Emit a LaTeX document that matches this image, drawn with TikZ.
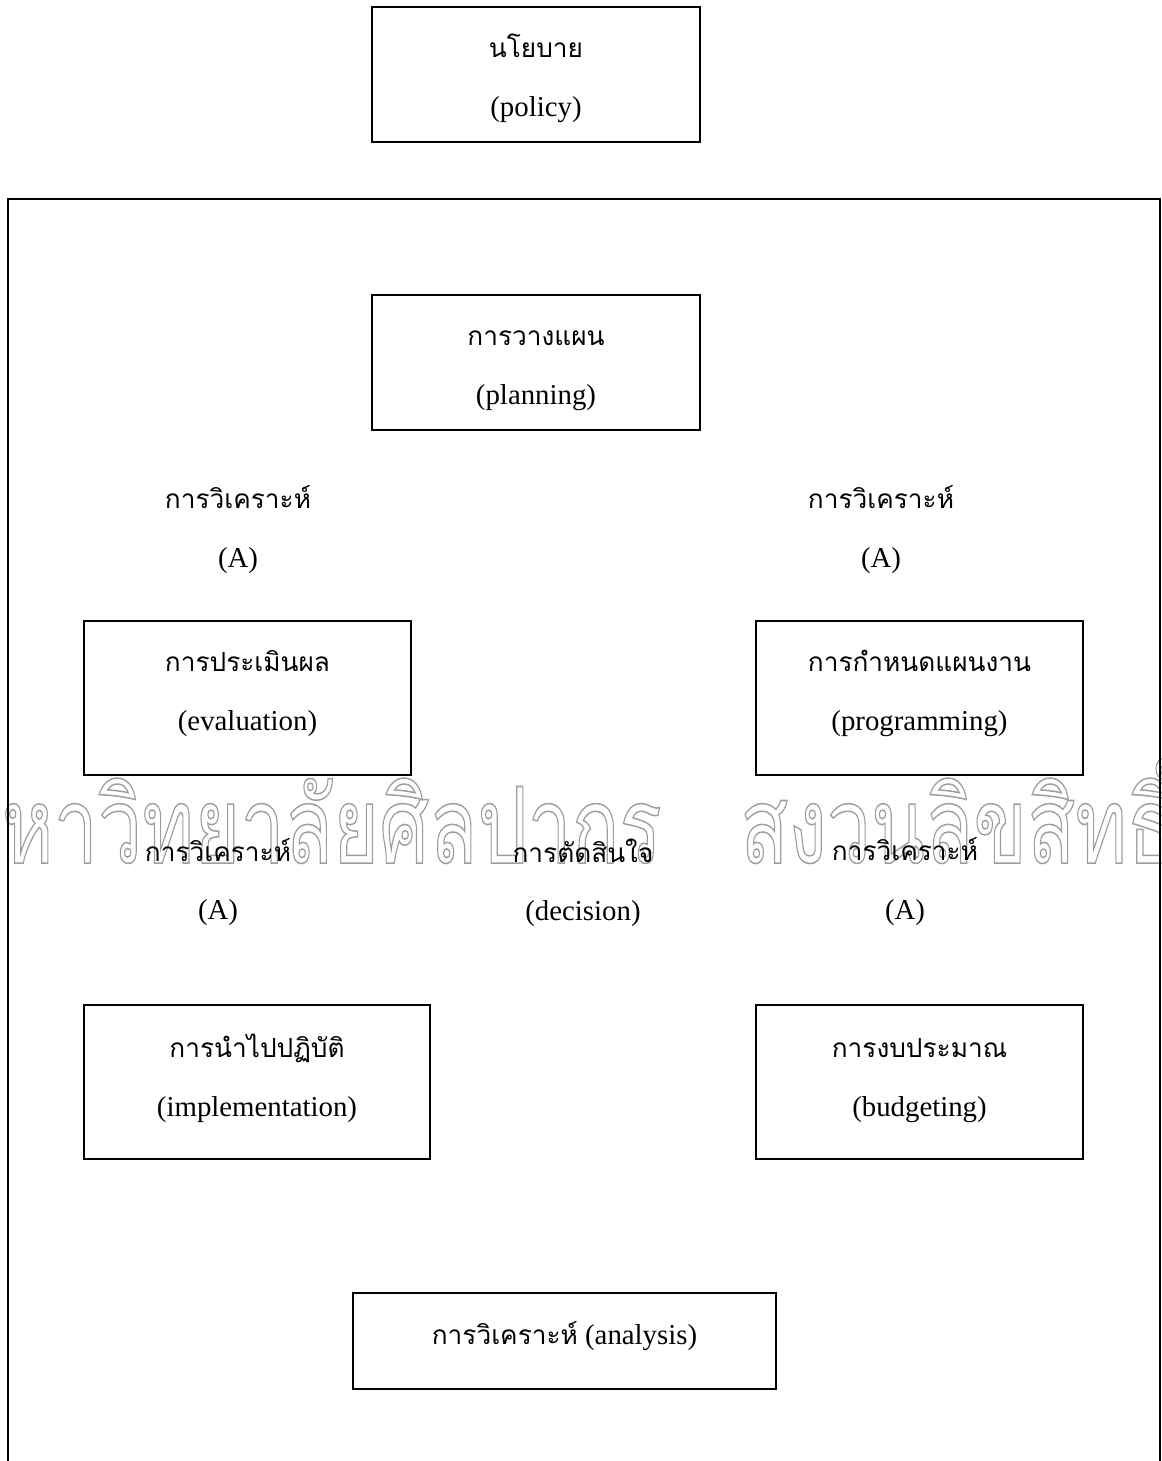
\documentclass[tikz,border=0pt]{standalone}
\usepackage{fontspec}
\setmainfont{Liberation Serif}
\newfontfamily\thaifont[Script=Thai,Scale=0.91]{Loma}
\definecolor{wmgray}{gray}{0.62}
\newcommand{\outlinetext}[1]{\special{pdf:literal direct 1 Tr 1 w 0.62 G}#1\special{pdf:literal direct 0 Tr}}
\newcommand{\bstrut}{\rule[-10.9pt]{0pt}{30.9pt}}
\newcommand{\twolines}[3][0pt]{{\thaifont\bstrut\raisebox{#1}{#2}}\\\bstrut\raisebox{#1}{#3}}
\tikzset{
  box/.style={rectangle, draw=black, line width=1.1pt, align=center,
              font=\fontsize{16.4}{33.5}\selectfont, inner sep=0pt},
  lbl/.style={align=center, font=\fontsize{16.4}{33.5}\selectfont, inner sep=0pt},
  frame/.style={draw=black, line width=1.1pt},
  wmark/.style={text=wmgray, inner sep=0pt, font=\thaifont\fontsize{77}{77}\selectfont},
}

\begin{document}
\begin{tikzpicture}[x=0.02cm, y=-0.02cm]
\useasboundingbox (0,0) rectangle (1161,1461);
% watermark
\node[wmark, anchor=base east] (wmleft) at (662,863) {\scalebox{0.64}[0.86]{\outlinetext{มหาวิทยาลัยศิลปากร}}};
\node[wmark, anchor=base west] (wmright) at (740,863) {\scalebox{0.64}[0.86]{\outlinetext{สงวนลิขสิทธิ์}}};
% outer frame
\draw[frame] (8,199) rectangle (1160,1480);
% boxes
\node[box, minimum width=6.56cm, minimum height=2.7cm] (policy) at (536,74.5) {\twolines[-2.6pt]{นโยบาย}{(policy)}};
\node[box, minimum width=6.56cm, minimum height=2.7cm] (planning) at (536,362.5) {\twolines[-2.8pt]{การวางแผน}{(planning)}};
\node[box, minimum width=6.54cm, minimum height=3.08cm] (evaluation) at (247.5,698) {\twolines[2.8pt]{การประเมินผล}{(evaluation)}};
\node[box, minimum width=6.54cm, minimum height=3.08cm] (programming) at (919.5,698) {\twolines[2.8pt]{การกำหนดแผนงาน}{(programming)}};
\node[box, minimum width=6.92cm, minimum height=3.08cm] (implementation) at (257,1082) {\twolines[1.7pt]{การนำไปปฏิบัติ}{(implementation)}};
\node[box, minimum width=6.54cm, minimum height=3.08cm] (budgeting) at (919.5,1082) {\twolines[1.7pt]{การงบประมาณ}{(budgeting)}};
\node[box, minimum width=8.46cm, minimum height=1.92cm] (analysis) at (564.5,1341) {\bstrut\raisebox{2.3pt}{{\thaifont การวิเคราะห์} (analysis)}};
% labels
\node[lbl] (anaTL) at (238,528.5) {\twolines[-1pt]{การวิเคราะห์}{(A)}};
\node[lbl] (anaTR) at (881,528.5) {\twolines[-1pt]{การวิเคราะห์}{(A)}};
\node[lbl] (anaML) at (218,882.5) {\twolines{การวิเคราะห์}{(A)}};
\node[lbl] (decision) at (583,883.5) {\twolines{การตัดสินใจ}{(decision)}};
\node[lbl] (anaMR) at (905,882) {\twolines{การวิเคราะห์}{(A)}};
\end{tikzpicture}
\end{document}
